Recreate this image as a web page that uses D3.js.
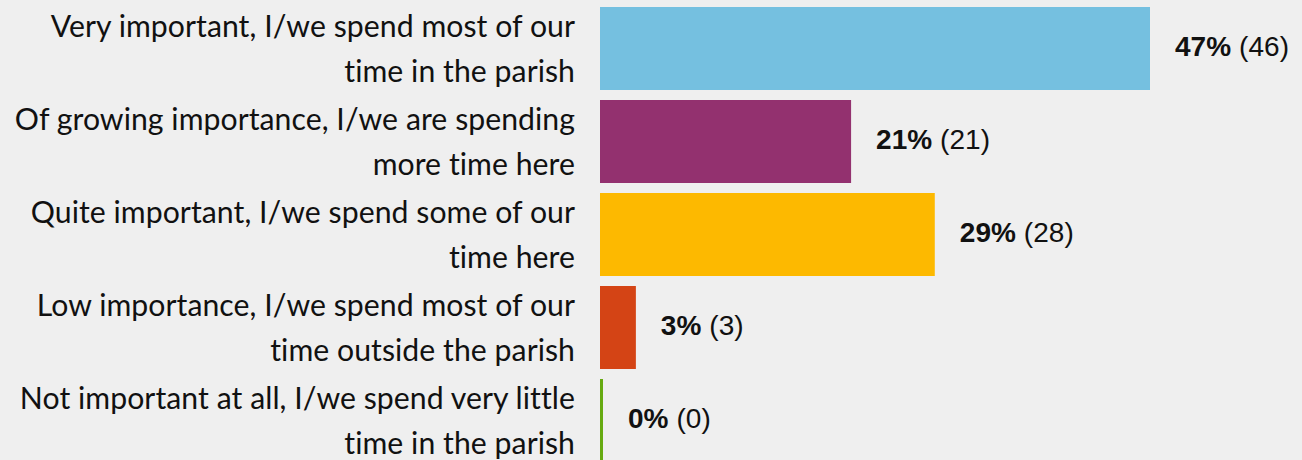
<!DOCTYPE html>
<html><head><meta charset="utf-8">
<script src="https://cdn.jsdelivr.net/npm/d3@7"></script>
<style>html,body{margin:0;padding:0;background:#efefef;overflow:hidden} svg{display:block} text{font-variant-ligatures:none;font-feature-settings:"liga" 0,"clig" 0,"calt" 0,"dlig" 0;letter-spacing:0.05px}</style>
</head><body><svg id="c" width="1302" height="460"></svg>
<script>
const categories = [
  ["Very important, I/we spend most of our", "time in the parish"],
  ["Of growing importance, I/we are spending", "more time here"],
  ["Quite important, I/we spend some of our", "time here"],
  ["Low importance, I/we spend most of our", "time outside the parish"],
  ["Not important at all, I/we spend very little", "time in the parish"]
];
const counts = [46, 21, 28, 3, 0];
const percents = [47, 21, 29, 3, 0];
const colors = ["#75c0e0", "#93316f", "#fdb900", "#d44415", "#66aa11"];

const svg = d3.select("#c");
svg.append("rect").attr("width", 1302).attr("height", 460).attr("fill", "#efefef");

const idx = d3.range(categories.length);
const y = d3.scaleBand().domain(idx).range([2, 467]).paddingInner(10/93).paddingOuter(5/93);
const x = d3.scaleLinear().domain([0, 46]).range([600, 1150]);
const minW = 3;
const bw = i => Math.max(x(counts[i]) - x(0), minW);

svg.append("g").selectAll("rect").data(idx).join("rect")
  .attr("x", x(0)).attr("y", i => y(i))
  .attr("width", bw).attr("height", y.bandwidth())
  .attr("fill", i => colors[i]);

const lab = svg.append("g").attr("font-family", "Lato, 'Open Sans', sans-serif").attr("font-size", 30.2).attr("fill", "#111").attr("text-anchor", "end");
idx.forEach(i => {
  categories[i].forEach((line, j) => {
    lab.append("text").attr("x", 575).attr("y", y(i) + 30 + j * 45).text(line);
  });
});

const val = svg.append("g").attr("font-family", "'Liberation Sans', Arial, sans-serif").attr("font-size", 28).attr("fill", "#111");
idx.forEach(i => {
  const t = val.append("text").attr("x", x(0) + bw(i) + 25).attr("y", y(i) + y.bandwidth() / 2 + 7);
  t.append("tspan").attr("font-weight", "bold").text(percents[i] + "%");
  t.append("tspan").text(" (" + counts[i] + ")");
});
</script></body></html>
